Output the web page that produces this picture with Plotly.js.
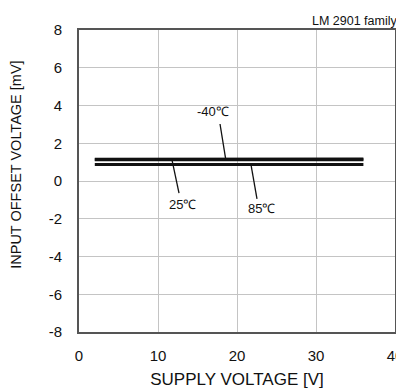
<!DOCTYPE html>
<html>
<head>
<meta charset="utf-8">
<script src="https://cdn.plot.ly/plotly-3.0.1.min.js"></script>
<style>html,body{margin:0;padding:0;background:#fff;}#chart{width:396px;height:390px;}</style>
</head>
<body>
<div id="chart"></div>
<script>
// Data
const supplyVoltage = [2, 6, 10, 14, 18, 22, 26, 30, 36];
const offsetMinus40 = [1.15, 1.15, 1.15, 1.15, 1.16, 1.16, 1.16, 1.16, 1.17];
const offset25 = [1.12, 1.12, 1.12, 1.12, 1.12, 1.12, 1.12, 1.12, 1.12];
const offset85 = [0.87, 0.87, 0.87, 0.87, 0.87, 0.87, 0.87, 0.87, 0.87];
const seriesNames = ['-40℃', '25℃', '85℃'];
const xTicks = [0, 10, 20, 30, 40];
const yTicks = [-8, -6, -4, -2, 0, 2, 4, 6, 8];

const font = 'Liberation Sans, Arial, sans-serif';
const lineStyle = {color: '#111', width: 3};

const traces = [
  {x: supplyVoltage, y: offsetMinus40, name: seriesNames[0], mode: 'lines', line: lineStyle},
  {x: supplyVoltage, y: offset25, name: seriesNames[1], mode: 'lines', line: lineStyle},
  {x: supplyVoltage, y: offset85, name: seriesNames[2], mode: 'lines', line: lineStyle}
];

// label placement: [textX, textY, pointerStartX, pointerStartY, pointerEndX, pointerEndY]
const labelPos = [
  [17.0, 3.66, 17.85, 3.02, 18.57, 1.16],
  [13.16, -1.22, 11.77, 1.12, 12.66, -0.64],
  [23.16, -1.48, 21.77, 0.87, 22.53, -0.95]
];

const annotations = labelPos.map((p, i) => ({
  x: p[0], y: p[1], xref: 'x', yref: 'y', text: seriesNames[i], showarrow: false,
  font: {family: font, size: 13, color: '#111'}
}));
const shapes = labelPos.map(p => ({
  type: 'line', xref: 'x', yref: 'y', x0: p[2], y0: p[3], x1: p[4], y1: p[5],
  line: {color: '#111', width: 1.3}
}));

annotations.push({
  xref: 'paper', yref: 'paper', x: 0.731, y: 1.0, xanchor: 'left', yanchor: 'bottom', yshift: 0,
  text: 'LM 2901 family', showarrow: false, font: {family: font, size: 12.5, color: '#111'}
});
annotations.push({
  xref: 'paper', yref: 'paper', x: -0.2, y: 0.553, xanchor: 'center', yanchor: 'middle',
  text: 'INPUT OFFSET VOLTAGE [mV]', textangle: -90, showarrow: false,
  font: {family: font, size: 14.5, color: '#111'}
});

const layout = {
  width: 396, height: 390,
  margin: {l: 79, r: 1, t: 30, b: 58},
  paper_bgcolor: '#fff', plot_bgcolor: '#fff',
  showlegend: false,
  font: {family: font, color: '#111'},
  xaxis: {
    range: [0, 40], tickvals: xTicks, ticktext: xTicks.map(String),
    showgrid: true, gridcolor: '#c4c4c4', gridwidth: 1, zeroline: false,
    showline: true, mirror: true, linecolor: '#555', linewidth: 2,
    ticks: '', ticklabelstandoff: 9, ticklabeloverflow: 'allow',
    tickfont: {family: font, size: 15, color: '#111'},
    title: {text: 'SUPPLY VOLTAGE [V]', font: {family: font, size: 17, color: '#111'}, standoff: 10}
  },
  yaxis: {
    range: [-8, 8], tickvals: yTicks, ticktext: yTicks.map(String),
    showgrid: true, gridcolor: '#c4c4c4', gridwidth: 1, zeroline: false,
    showline: true, mirror: true, linecolor: '#555', linewidth: 2,
    ticks: '', ticklabelstandoff: 12, tickfont: {family: font, size: 15, color: '#111'}
  },
  annotations: annotations,
  shapes: shapes
};

Plotly.newPlot('chart', traces, layout, {displayModeBar: false, staticPlot: true});
</script>
</body>
</html>
